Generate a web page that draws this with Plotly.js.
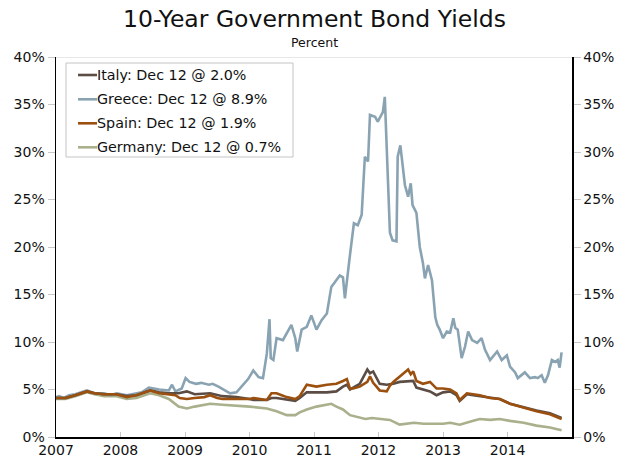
<!DOCTYPE html>
<html><head><meta charset="utf-8">
<script src="https://cdn.plot.ly/plotly-3.0.1.min.js"></script>
<style>html,body{margin:0;padding:0;background:#fff}</style>
</head><body><div id="chart" style="width:629px;height:464px"></div>
<script>
// Dates are given as decimal years, values in percent
const seriesNames = ["Italy: Dec 12 @ 2.0%", "Greece: Dec 12 @ 8.9%", "Spain: Dec 12 @ 1.9%", "Germany: Dec 12 @ 0.7%"];
const yearTicks = [2007, 2008, 2009, 2010, 2011, 2012, 2013, 2014];
const yTickValues = [0, 5, 10, 15, 20, 25, 30, 35, 40];

const italyYears = [2007.00,2007.15,2007.30,2007.48,2007.60,2007.75,2007.94,2008.10,2008.25,2008.46,2008.60,2008.75,2008.90,2009.03,2009.15,2009.39,2009.58,2009.80,2010.00,2010.06,2010.27,2010.34,2010.42,2010.58,2010.71,2010.78,2010.89,2011.04,2011.20,2011.35,2011.45,2011.51,2011.56,2011.61,2011.71,2011.83,2011.87,2011.92,2011.97,2012.02,2012.13,2012.23,2012.33,2012.46,2012.54,2012.59,2012.69,2012.80,2012.90,2013.00,2013.11,2013.21,2013.26,2013.37,2013.47,2013.57,2013.73,2013.88,2014.04,2014.25,2014.45,2014.66,2014.84];
const italyValues = [4.1,4.1,4.4,4.8,4.6,4.5,4.5,4.3,4.4,4.9,4.7,4.6,4.6,4.8,4.5,4.6,4.3,4.2,4.0,3.9,3.9,4.1,4.1,3.9,3.8,4.1,4.7,4.7,4.7,4.8,5.3,5.5,5.0,5.2,5.6,7.1,6.7,6.9,6.3,5.6,5.5,5.6,5.8,5.9,5.9,5.2,5.0,4.8,4.4,4.7,4.8,4.4,3.8,4.5,4.4,4.3,4.1,4.0,3.5,3.1,2.8,2.5,2.0];

const greeceYears = [2007.00,2007.05,2007.12,2007.20,2007.30,2007.48,2007.60,2007.75,2007.85,2007.94,2008.10,2008.25,2008.33,2008.44,2008.60,2008.75,2008.80,2008.85,2008.95,2009.01,2009.07,2009.17,2009.25,2009.37,2009.43,2009.52,2009.70,2009.80,2009.88,2009.98,2010.06,2010.14,2010.21,2010.27,2010.31,2010.33,2010.37,2010.42,2010.52,2010.58,2010.65,2010.71,2010.74,2010.81,2010.89,2010.96,2011.04,2011.12,2011.20,2011.27,2011.35,2011.40,2011.45,2011.48,2011.55,2011.62,2011.68,2011.74,2011.79,2011.84,2011.87,2011.95,2011.99,2012.04,2012.07,2012.10,2012.18,2012.22,2012.28,2012.30,2012.34,2012.41,2012.46,2012.50,2012.53,2012.59,2012.64,2012.69,2012.72,2012.77,2012.83,2012.88,2012.91,2012.95,2013.00,2013.06,2013.11,2013.16,2013.19,2013.23,2013.29,2013.34,2013.39,2013.45,2013.53,2013.60,2013.65,2013.73,2013.84,2013.91,2013.99,2014.04,2014.12,2014.16,2014.27,2014.35,2014.43,2014.47,2014.53,2014.58,2014.63,2014.69,2014.74,2014.78,2014.81,2014.84];
const greeceValues = [4.2,4.3,4.1,4.4,4.5,4.9,4.6,4.6,4.4,4.6,4.4,4.6,4.7,5.2,5.0,4.9,5.5,4.8,5.1,6.2,5.8,5.6,5.7,5.5,5.6,5.3,4.6,4.7,5.3,6.1,7.0,6.3,6.2,8.8,12.4,8.3,8.1,10.4,10.2,10.9,11.8,10.4,9.0,11.3,11.6,12.8,11.3,12.3,13.0,15.8,16.5,17.0,16.8,14.6,18.6,22.5,22.3,23.4,29.5,29.0,33.9,33.7,33.2,33.8,34.2,35.8,21.5,20.7,20.6,29.5,30.7,26.5,25.3,26.7,24.4,23.6,20.0,18.3,16.7,18.1,16.5,12.6,11.8,11.3,10.4,11.1,11.0,12.5,11.5,11.3,8.3,9.5,11.1,10.2,9.9,10.4,9.2,8.1,9.0,8.1,8.6,7.4,6.8,6.2,6.8,6.2,6.3,6.2,6.5,5.7,6.5,8.1,7.9,8.1,7.3,8.9];

const spainYears = [2007.00,2007.15,2007.30,2007.48,2007.60,2007.75,2007.94,2008.10,2008.25,2008.46,2008.60,2008.75,2008.85,2008.92,2009.03,2009.15,2009.30,2009.39,2009.50,2009.58,2009.80,2010.00,2010.06,2010.27,2010.34,2010.42,2010.50,2010.58,2010.71,2010.78,2010.89,2011.04,2011.20,2011.35,2011.45,2011.51,2011.56,2011.61,2011.71,2011.83,2011.87,2011.92,2011.97,2012.02,2012.13,2012.18,2012.23,2012.33,2012.46,2012.50,2012.54,2012.59,2012.69,2012.80,2012.90,2013.00,2013.11,2013.21,2013.26,2013.37,2013.47,2013.57,2013.73,2013.88,2014.04,2014.25,2014.45,2014.66,2014.84];
const spainValues = [4.1,4.1,4.4,4.8,4.6,4.5,4.5,4.2,4.4,4.9,4.6,4.5,4.4,4.1,4.0,4.1,4.2,4.4,4.1,4.0,4.0,4.0,4.1,3.9,4.6,4.6,4.4,4.2,4.0,4.3,5.5,5.3,5.5,5.6,5.9,6.1,5.1,5.1,5.3,5.8,6.4,5.7,5.3,4.9,4.8,5.4,5.8,6.4,7.1,6.6,6.9,5.9,5.6,5.8,5.1,5.1,5.0,4.6,3.9,4.6,4.5,4.4,4.1,4.0,3.5,3.1,2.7,2.4,1.9];

const germanyYears = [2007.00,2007.15,2007.30,2007.48,2007.60,2007.75,2007.94,2008.10,2008.25,2008.46,2008.60,2008.75,2008.90,2009.03,2009.15,2009.39,2009.58,2009.80,2010.00,2010.27,2010.42,2010.58,2010.71,2010.78,2010.89,2011.04,2011.20,2011.27,2011.35,2011.45,2011.56,2011.71,2011.80,2011.90,2012.02,2012.18,2012.33,2012.46,2012.55,2012.70,2013.00,2013.11,2013.26,2013.47,2013.57,2013.73,2013.88,2014.04,2014.25,2014.45,2014.66,2014.84];
const germanyValues = [4.0,4.0,4.3,4.7,4.5,4.3,4.3,4.0,4.1,4.6,4.4,4.0,3.2,3.0,3.2,3.5,3.4,3.3,3.2,3.0,2.7,2.3,2.3,2.6,2.9,3.2,3.4,3.5,3.2,2.9,2.3,2.0,1.9,2.0,1.9,1.8,1.3,1.4,1.5,1.4,1.4,1.5,1.3,1.7,1.9,1.8,1.9,1.7,1.5,1.2,1.0,0.7];

const colors = ["#5b4d45", "#89a3b3", "#9c500f", "#a9b08c"];

function toDate(d) {
  const y = Math.floor(d);
  const start = Date.UTC(y, 0, 1), end = Date.UTC(y + 1, 0, 1);
  return new Date(start + (d - y) * (end - start)).toISOString().slice(0, 10);
}

const xs = [italyYears, greeceYears, spainYears, germanyYears];
const ys = [italyValues, greeceValues, spainValues, germanyValues];
const drawOrder = [3, 1, 0, 2];

const traces = drawOrder.map(i => ({
  type: "scatter", mode: "lines",
  x: xs[i].map(toDate), y: ys[i],
  name: seriesNames[i],
  yaxis: i === 2 ? "y2" : "y",
  showlegend: false,
  line: {color: colors[i], width: 2.6},
  hoverinfo: "skip"
}));

const font = "DejaVu Sans, Verdana, sans-serif";

// Legend box built in paper coordinates (plot area 516 x 380 px)
const legX0 = 10 / 516, legX1 = 237 / 516, legY0 = (437 - 157) / 380, legY1 = (437 - 63) / 380;
const rowY = [75, 99.3, 123.3, 147.3].map(p => (437 - p) / 380);
const shapes = [
  {type: "line", xref: "paper", yref: "y", x0: 0, x1: 1, y0: 40, y1: 40, line: {color: "#d0d0d0", width: 1}},
  {type: "rect", xref: "paper", yref: "paper", x0: legX0, x1: legX1, y0: legY0, y1: legY1, line: {color: "#c4c4c4", width: 1}, fillcolor: "#fff", layer: "above"}
];
const annotations = [{text: "Percent", xref: "paper", yref: "paper", x: 0.5, y: 1, yanchor: "bottom", yshift: 5, showarrow: false, font: {family: font, size: 12.5, color: "#111"}}];
seriesNames.forEach((name, i) => {
  shapes.push({type: "line", xref: "paper", yref: "paper", x0: 22 / 516, x1: 41 / 516, y0: rowY[i], y1: rowY[i], line: {color: colors[i], width: 2.6}, layer: "above"});
  annotations.push({text: name, xref: "paper", yref: "paper", x: 41 / 516, y: rowY[i], xanchor: "left", yanchor: "middle", xshift: -2, showarrow: false, font: {family: font, size: 14.3, color: "#111"}});
});

const layout = {
  width: 629, height: 464,
  margin: {l: 56, r: 57, t: 57, b: 27},
  paper_bgcolor: "#fff", plot_bgcolor: "#fff",
  font: {family: font, size: 13, color: "#111"},
  showlegend: false,
  title: {text: "10-Year Government Bond Yields", font: {family: font, size: 23.5, color: "#111"}, x: 0.5, xanchor: "center", y: 0.96, yanchor: "middle"},
  annotations: annotations,
  shapes: shapes,
  xaxis: {
    type: "date", range: ["2007-01-01", "2015-01-01"],
    tickvals: yearTicks.map(y => y + "-01-01"), ticktext: yearTicks.map(String),
    ticks: "inside", ticklen: 5, tickcolor: "#c8c8c8", tickwidth: 1,
    showline: true, linecolor: "#000", linewidth: 1.5,
    showgrid: false, zeroline: false, tickfont: {size: 14}, fixedrange: true
  },
  yaxis: {
    range: [0, 40], tickvals: yTickValues, ticktext: yTickValues.map(v => v + "%"),
    ticks: "outside", ticklen: 7, tickcolor: "#c8c8c8", tickwidth: 1,
    showline: true, linecolor: "#000", linewidth: 1.5,
    showgrid: false, zeroline: false, tickfont: {size: 14}, fixedrange: true
  },
  yaxis2: {
    overlaying: "y", side: "right", anchor: "x",
    range: [0, 40], tickvals: yTickValues, ticktext: yTickValues.map(v => v + "%"),
    ticks: "outside", ticklen: 7, tickcolor: "#c8c8c8", tickwidth: 1,
    showline: true, linecolor: "#000", linewidth: 1.5,
    showgrid: false, zeroline: false, tickfont: {size: 14}, fixedrange: true
  }
};

Plotly.newPlot("chart", traces, layout, {staticPlot: true, displayModeBar: false});
</script>
</body></html>
